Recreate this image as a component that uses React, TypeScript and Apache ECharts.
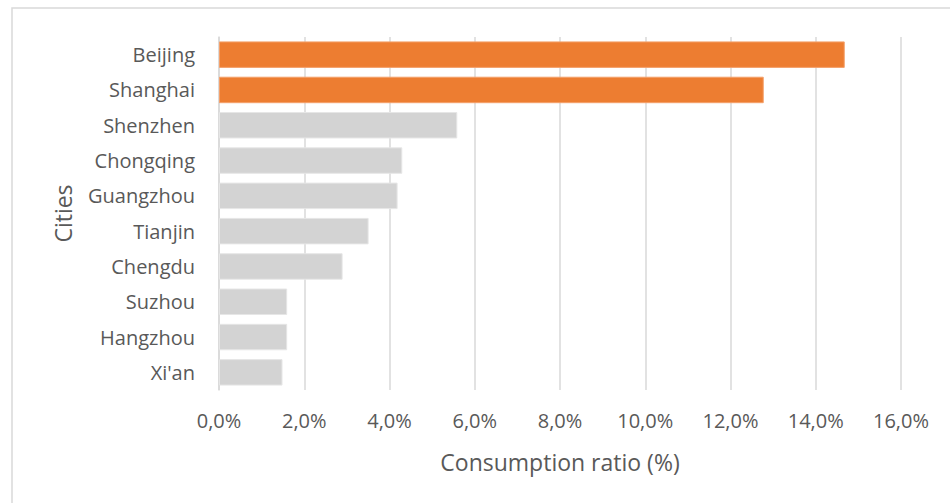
import React, { useEffect, useRef } from "react";
import * as echarts from "echarts";

const cities = ["Beijing", "Shanghai", "Shenzhen", "Chongqing", "Guangzhou", "Tianjin", "Chengdu", "Suzhou", "Hangzhou", "Xi'an"];
const ratios = [14.68, 12.78, 5.59, 4.3, 4.19, 3.51, 2.9, 1.6, 1.6, 1.49];
const highlighted = ["Beijing", "Shanghai"];
const xTitle = "Consumption ratio (%)";
const yTitle = "Cities";

const ORANGE = "#ED7D31";
const GRAY = "#D3D3D3";
const TEXT = "#595959";
const FONT = "Open Sans";

export default function App() {
  const ref = useRef<HTMLDivElement>(null);
  useEffect(() => {
    if (!ref.current) return;
    const chart = echarts.init(ref.current, null, { renderer: "svg" });
    chart.setOption({
      animation: false,
      backgroundColor: "#ffffff",
      textStyle: { fontFamily: FONT },
      graphic: [
        {
          type: "rect",
          shape: { x: 12, y: 8, width: 1000, height: 600 },
          style: { fill: "none", stroke: "#D9D9D9", lineWidth: 1.5 },
          silent: true,
        },
      ],
      grid: { left: 219, right: 49, top: 37, bottom: 113 },
      xAxis: {
        type: "value",
        min: 0,
        max: 16,
        interval: 2,
        axisLine: { show: false },
        axisTick: { show: false },
        splitLine: { show: true, lineStyle: { color: "#D9D9D9", width: 1.5 } },
        axisLabel: {
          color: TEXT,
          fontSize: 20,
          fontFamily: FONT,
          margin: 20,
          formatter: (v: number) => v.toFixed(1).replace(".", ",") + "%",
        },
        name: xTitle,
        nameLocation: "middle",
        nameGap: 60,
        nameTextStyle: { color: TEXT, fontSize: 23, fontFamily: FONT },
      },
      yAxis: {
        type: "category",
        data: cities,
        inverse: true,
        axisLine: { show: true, lineStyle: { color: "#D9D9D9", width: 1.5 } },
        axisTick: { show: false },
        axisLabel: { color: TEXT, fontSize: 20, fontFamily: FONT, margin: 24 },
        name: yTitle,
        nameLocation: "middle",
        nameGap: 145,
        nameRotate: 90,
        nameTextStyle: { color: TEXT, fontSize: 23, fontFamily: FONT },
      },
      series: [
        {
          type: "bar",
          barCategoryGap: "25%",
          data: ratios.map((v, i) => ({
            value: v,
            itemStyle: {
              color: highlighted.includes(cities[i]) ? ORANGE : GRAY,
              borderColor: highlighted.includes(cities[i]) ? "#F4A06A" : "#E6E6E6",
              borderWidth: 1,
            },
          })),
        },
      ],
    });
    return () => chart.dispose();
  }, []);
  return <div ref={ref} style={{ position: "absolute", left: 0, top: 0, width: 950, height: 503 }} />;
}
